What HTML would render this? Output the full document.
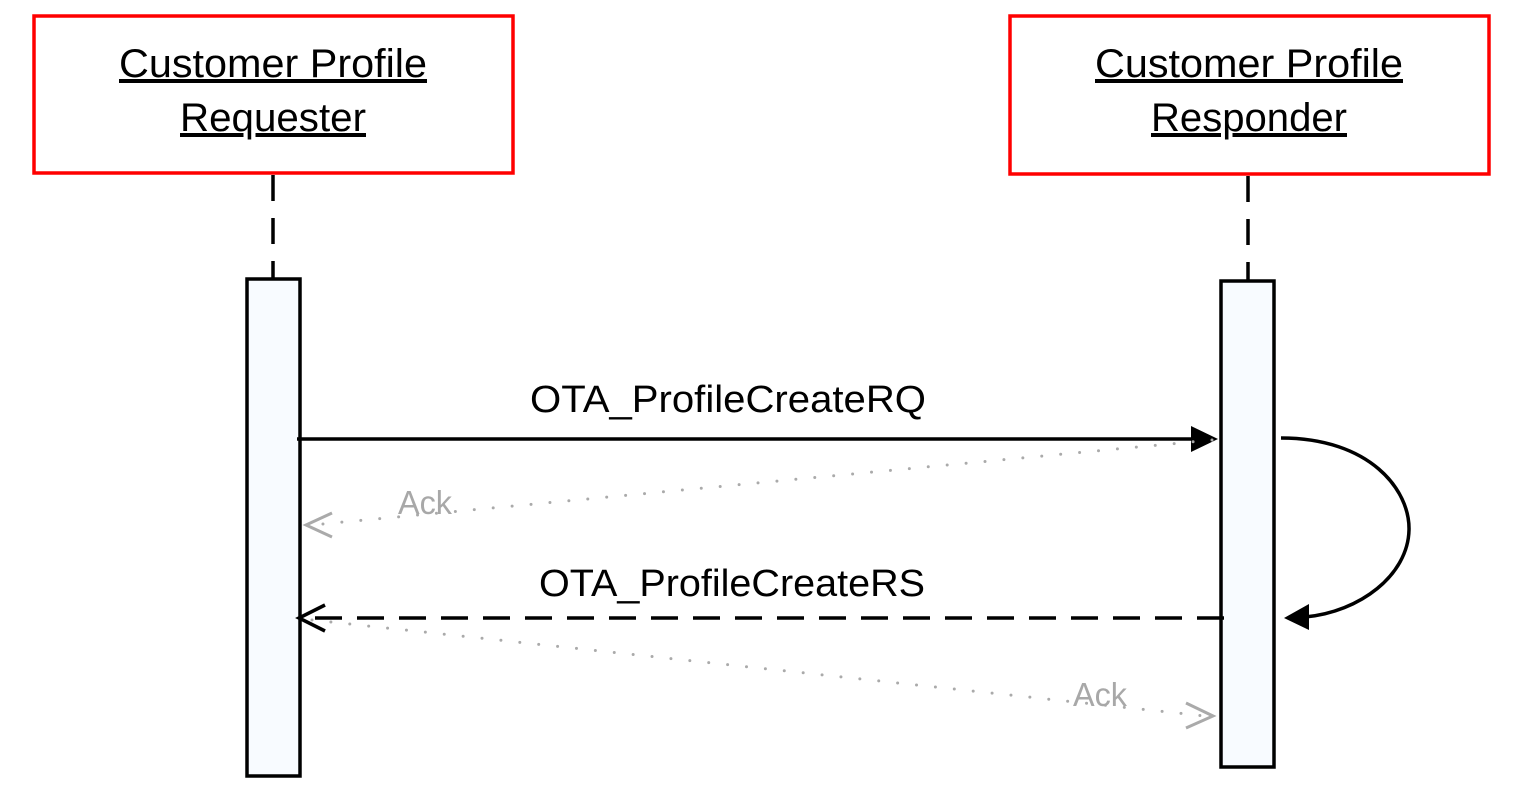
<!DOCTYPE html>
<html><head><meta charset="utf-8"><style>html,body{margin:0;padding:0;background:#fff}</style></head>
<body>
<svg width="1517" height="795" viewBox="0 0 1517 795" xmlns="http://www.w3.org/2000/svg" font-family="'Liberation Sans', sans-serif">
<rect x="34" y="16" width="479" height="157" fill="#fff" stroke="#f00" stroke-width="3.5"/>
<rect x="1010" y="16" width="479" height="158" fill="#fff" stroke="#f00" stroke-width="3.5"/>
<g font-size="40" text-anchor="middle" fill="#000" text-decoration="underline">
<text x="273" y="77" textLength="308" lengthAdjust="spacingAndGlyphs">Customer Profile</text>
<text x="273" y="131" textLength="186" lengthAdjust="spacingAndGlyphs">Requester</text>
<text x="1249" y="77" textLength="308" lengthAdjust="spacingAndGlyphs">Customer Profile</text>
<text x="1249" y="131" textLength="196" lengthAdjust="spacingAndGlyphs">Responder</text>
</g>
<g stroke="#000" stroke-width="3.5">
<line x1="273" y1="175" x2="273" y2="279" stroke-dasharray="26,17"/>
<line x1="1248" y1="176" x2="1248" y2="281" stroke-dasharray="26,17"/>
</g>
<rect x="247" y="279" width="53" height="497" fill="#f8fbff" stroke="#000" stroke-width="3.5"/>
<rect x="1221" y="281" width="53" height="486" fill="#f8fbff" stroke="#000" stroke-width="3.5"/>
<line x1="297" y1="439" x2="1195" y2="439" stroke="#000" stroke-width="3.5"/>
<path d="M1191,426 L1218,439 L1191,452 Z" fill="#000"/>
<text x="728" y="412" font-size="38" text-anchor="middle" textLength="396" lengthAdjust="spacingAndGlyphs">OTA_ProfileCreateRQ</text>
<line x1="1212" y1="440" x2="312" y2="525" stroke="#aaa" stroke-width="3" stroke-dasharray="0,19" stroke-linecap="round"/>
<path d="M332,513 L306,525 L332,537" fill="none" stroke="#aaa" stroke-width="3"/>
<text x="398" y="514" font-size="33" fill="#a8a8a8" textLength="54" lengthAdjust="spacingAndGlyphs">Ack</text>
<path d="M1281,438 C1370,438 1410,490 1409,530 C1408,575 1360,612 1305,617" fill="none" stroke="#000" stroke-width="3.5"/>
<path d="M1284,618 L1309,604 L1309,630 Z" fill="#000"/>
<line x1="1224" y1="618" x2="305" y2="618" stroke="#000" stroke-width="3.5" stroke-dasharray="27,15"/>
<path d="M325,605 L299,618 L325,631" fill="none" stroke="#000" stroke-width="3.5"/>
<text x="732" y="596" font-size="38" text-anchor="middle" textLength="386" lengthAdjust="spacingAndGlyphs">OTA_ProfileCreateRS</text>
<line x1="312" y1="620" x2="1205" y2="716" stroke="#aaa" stroke-width="3" stroke-dasharray="0,19" stroke-linecap="round"/>
<path d="M1186,703 L1213,716 L1186,728" fill="none" stroke="#aaa" stroke-width="3"/>
<text x="1073" y="706" font-size="33" fill="#a8a8a8" textLength="54" lengthAdjust="spacingAndGlyphs">Ack</text>
</svg>
</body></html>
